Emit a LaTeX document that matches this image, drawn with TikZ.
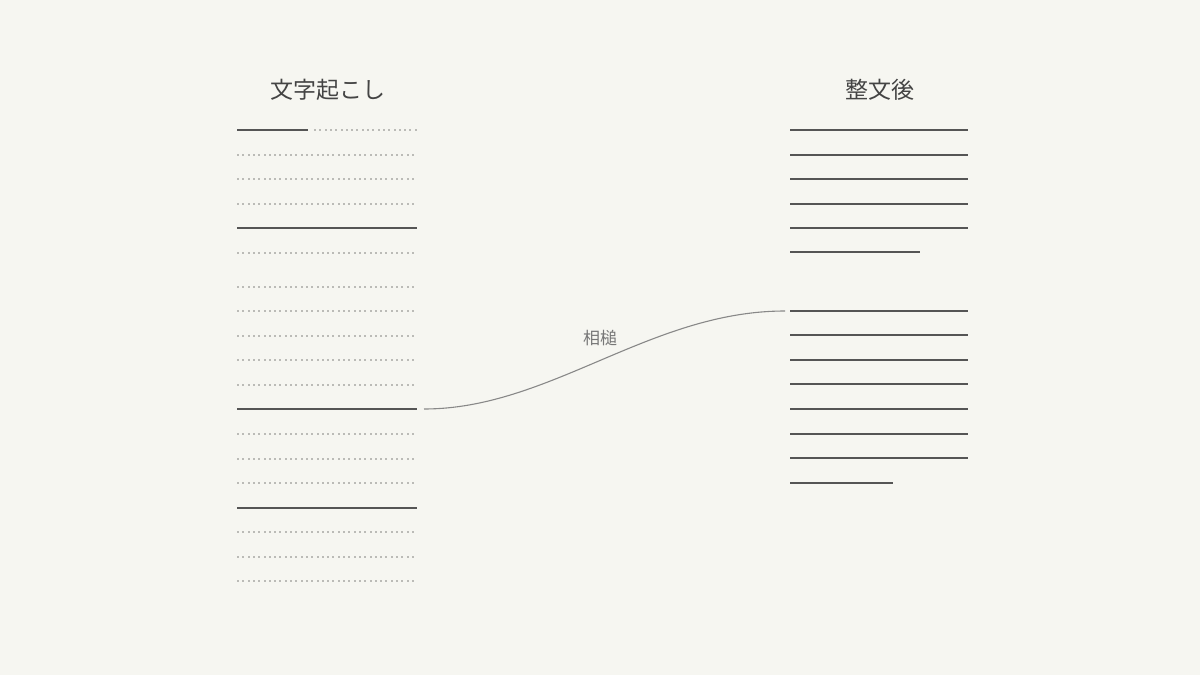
\documentclass[tikz,border=0pt]{standalone}
\usepackage{fontspec}
\newfontfamily\cjk{Noto Sans CJK JP}
\definecolor{bg}{HTML}{F6F6F1}
\definecolor{ink}{HTML}{555555}
\definecolor{dotc}{HTML}{BBBBB7}
\definecolor{curvec}{HTML}{888888}
\definecolor{titlec}{HTML}{444444}
\definecolor{labelc}{HTML}{777777}
\tikzset{
  solidline/.style={draw=ink, line width=1.3pt},
  dotsq/.style={fill=dotc},
  titletext/.style={font=\cjk\fontsize{23}{27}\selectfont, text=titlec, inner sep=0pt},
  labeltext/.style={font=\cjk\fontsize{17}{20}\selectfont, text=labelc, inner sep=0pt},
  linkcurve/.style={draw=curvec, line width=1.1pt},
}
% dotted row: start x, end x, y
\newcommand{\dotrow}[3]{%
  \pgfmathtruncatemacro{\ndots}{floor((#2-#1)/5.3)}%
  \foreach \i in {0,...,\ndots}{%
    \pgfmathtruncatemacro{\xx}{round(#1+\i*5.3)}%
    \fill[dotsq] (\xx,#3-1) rectangle ++(2,2);%
  }%
}
\begin{document}
\begin{tikzpicture}[x=1pt,y=-1pt]
\fill[bg] (0,0) rectangle (1200,675);
\useasboundingbox (0,0) rectangle (1200,675);
% titles
\node[titletext] (tleft) at (328,90) {文字起こし};
\node[titletext] (tright) at (880,90) {整文後};
% left column
\draw[solidline] (237,130) -- (308,130);
\dotrow{314}{416}{130}
\foreach \y in {155,179,204,253,287,311,336,360,385,434,459,483,532,557,581}
  {\dotrow{237}{416}{\y}}
\foreach \y in {228,508}
  \draw[solidline] (237,\y) -- (417,\y);
\draw[solidline] (237,409) -- (417,409) coordinate (lend);
% right column
\foreach \y in {130,155,179,204,228,335,360,384,409,434,458}
  \draw[solidline] (790,\y) -- (968,\y);
\draw[solidline] (790,252) -- (920,252);
\draw[solidline] (790,311) coordinate (rstart) -- (968,311);
\draw[solidline] (790,483) -- (893,483);
% connector
\coordinate (cstart) at ([xshift=7pt]lend);
\coordinate (cend) at ([xshift=-5pt]rstart);
\draw[linkcurve] (cstart) .. controls (550,409) and (650,311) .. (cend);
\node[labeltext] (lbl) at (600,338) {相槌};
\end{tikzpicture}
\end{document}
